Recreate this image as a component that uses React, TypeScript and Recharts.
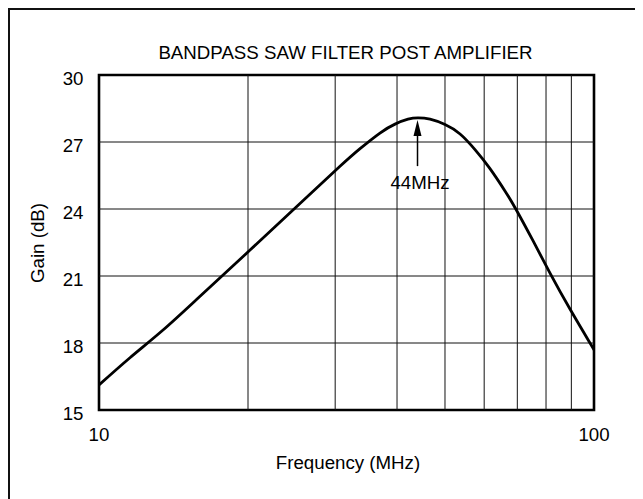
import React from 'react';
import { LineChart, Line, XAxis, YAxis, ReferenceLine, ReferenceArea, ReferenceDot } from 'recharts';

const freqs = [10, 11.55, 13.47, 16.0, 20.19, 25.47, 30.68, 33.68, 36.95, 39.63, 42.1, 44.1, 46.64, 50.0, 53.63, 57.49, 61.64, 66.09, 69.55, 75.29, 81.5, 89.43, 98.16, 100];
const gains = [16.12, 17.34, 18.58, 20.09, 22.16, 24.25, 25.91, 26.7, 27.4, 27.8, 28.02, 28.08, 28.02, 27.78, 27.36, 26.66, 25.81, 24.81, 23.99, 22.58, 21.13, 19.52, 18.0, 17.7];
const xTicks = [10, 100];
const yTicks = [15, 18, 21, 24, 27, 30];
const xGrid = [20, 30, 40, 50, 60, 70, 80, 90];
const yGrid = [18, 21, 24, 27];
const markerFreq = 44;
const arrowTip = 27.98;
const arrowBase = 25.92;
const markerLabel = '44MHz';
const title = 'BANDPASS SAW FILTER POST AMPLIFIER';
const xLabel = 'Frequency (MHz)';
const yLabel = 'Gain (dB)';

const data = freqs.map((f, i) => ({ f, g: gains[i] }));
const FONT = '"Liberation Sans", Arial, sans-serif';
const FS = 18.7;

const YTick = (p: any) => (
  <text x={p.x - 15.5} y={p.y + 9.8} textAnchor="end" fontSize={FS} fontFamily={FONT} fill="#000">
    {p.payload.value}
  </text>
);
const XTick = (p: any) => (
  <text x={p.x} y={p.y + 31} textAnchor="middle" fontSize={FS} fontFamily={FONT} fill="#000">
    {p.payload.value}
  </text>
);

const ArrowHead = (p: any) => (
  <polygon points={`${p.cx},${p.cy} ${p.cx - 4},${p.cy + 16} ${p.cx + 4},${p.cy + 16}`} fill="#000" />
);
const MarkerText = (p: any) => (
  <text x={p.cx + 2.5} y={p.cy + 23.3} textAnchor="middle" fontSize={FS} fontFamily={FONT} fill="#000">
    {markerLabel}
  </text>
);

export default function App() {
  return (
    <div
      style={{
        position: 'relative',
        width: 635,
        height: 491,
        borderLeft: '2px solid #111',
        borderTop: '2px solid #111',
        boxSizing: 'border-box',
        fontFamily: FONT,
        color: '#000',
      }}
    >
      <div style={{ position: 'absolute', left: 35.5, top: 33.5, width: 600, fontSize: FS, lineHeight: '18px', textAlign: 'center', whiteSpace: 'nowrap' }}>
        {title}
      </div>
      <div style={{ position: 'absolute', left: 38, top: 444.1, width: 600, fontSize: FS, lineHeight: '18px', textAlign: 'center', whiteSpace: 'nowrap' }}>
        {xLabel}
      </div>
      <div
        style={{
          position: 'absolute',
          left: -71.6,
          top: 224,
          width: 200,
          height: 18,
          fontSize: FS,
          lineHeight: '18px',
          textAlign: 'center',
          whiteSpace: 'nowrap',
          transform: 'rotate(-90deg)',
        }}
      >
        {yLabel}
      </div>
      <LineChart width={633} height={489} data={data} margin={{ top: 65, right: 49, left: 29, bottom: 59 }}>
        <XAxis
          dataKey="f"
          type="number"
          scale="log"
          domain={[10, 100]}
          ticks={xTicks}
          allowDataOverflow
          axisLine={false}
          tickLine={false}
          tickSize={0}
          tickMargin={0}
          height={30}
          tick={<XTick />}
        />
        <YAxis
          type="number"
          domain={[15, 30]}
          ticks={yTicks}
          axisLine={false}
          tickLine={false}
          tickSize={0}
          tickMargin={0}
          width={60}
          tick={<YTick />}
        />
        {xGrid.map((v) => (
          <ReferenceLine key={'x' + v} x={v} stroke="#111" strokeWidth={1} />
        ))}
        {yGrid.map((v) => (
          <ReferenceLine key={'y' + v} y={v} stroke="#111" strokeWidth={1} />
        ))}
        <Line type="natural" dataKey="g" stroke="#000" strokeWidth={2.8} dot={false} isAnimationActive={false} />
        <ReferenceLine
          segment={[
            { x: markerFreq, y: arrowBase },
            { x: markerFreq, y: arrowTip - 0.5 },
          ]}
          stroke="#000"
          strokeWidth={1.5}
        />
        <ReferenceDot x={markerFreq} y={arrowTip} r={4} shape={<ArrowHead />} />
        <ReferenceDot x={markerFreq} y={arrowBase} r={1} shape={<MarkerText />} />
        <ReferenceArea x1={10} x2={100} y1={15} y2={30} fill="none" stroke="#000" strokeWidth={2.6} />
      </LineChart>
    </div>
  );
}
